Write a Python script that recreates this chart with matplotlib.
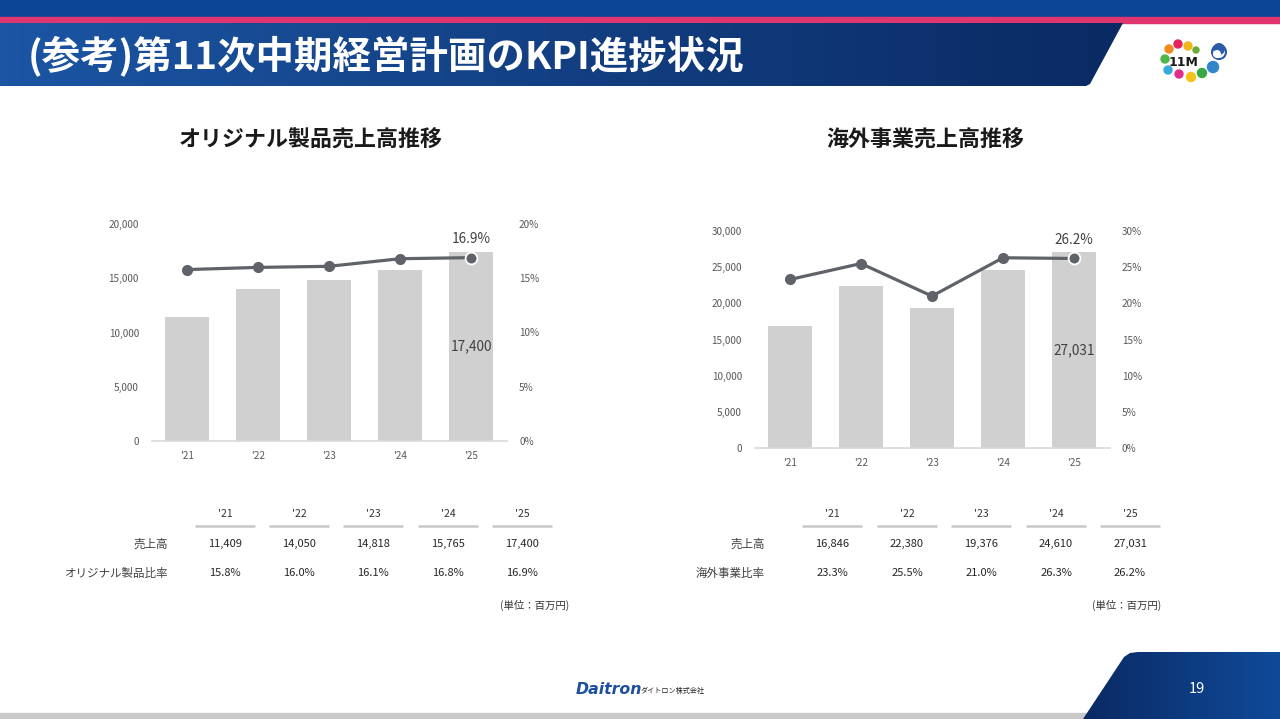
import numpy as np
import matplotlib
matplotlib.use("Agg")
import matplotlib.pyplot as plt
from matplotlib.patches import Polygon, Circle, Rectangle
from matplotlib.colors import LinearSegmentedColormap

plt.rcParams['font.family'] = ['Noto Sans CJK JP', 'DejaVu Sans']

# ---------------- data ----------------
years = ["'21", "'22", "'23", "'24", "'25"]
orig_sales = [11409, 14050, 14818, 15765, 17400]
orig_ratio = [15.8, 16.0, 16.1, 16.8, 16.9]
overseas_sales = [16846, 22380, 19376, 24610, 27031]
overseas_ratio = [23.3, 25.5, 21.0, 26.3, 26.2]

title_main = "(参考)第11次中期経営計画のKPI進捗状況"
title_left = "オリジナル製品売上高推移"
title_right = "海外事業売上高推移"
row_sales = "売上高"
row_orig = "オリジナル製品比率"
row_over = "海外事業比率"
unit_txt = "(単位：百万円)"

W, H = 1280, 719
fig = plt.figure(figsize=(12.8, 7.19), dpi=100)
fig.patch.set_facecolor('white')
bg = fig.add_axes([0, 0, 1, 1])
bg.axis('off')


def grad(verts, c1, c2, z=1):
    poly = Polygon(verts, closed=True, facecolor='none', edgecolor='none')
    bg.add_patch(poly)
    xs = [v[0] for v in verts]
    ys = [v[1] for v in verts]
    g = np.linspace(0, 1, 256).reshape(1, -1)
    cmap = LinearSegmentedColormap.from_list('g', [c1, c2])
    im = bg.imshow(g, extent=[min(xs), max(xs), max(ys), min(ys)], cmap=cmap,
                   aspect='auto', zorder=z, interpolation='bilinear')
    im.set_clip_path(poly)


# header
bg.add_patch(Rectangle((0, 0), W, 17, color='#0d4596', zorder=1))
bg.add_patch(Rectangle((0, 17), W, 6, color='#e0366f', zorder=1))
grad([(0, 23), (1123, 23), (1090, 84), (1086, 86), (0, 86)], '#1b55a3', '#0a2a63')
bg.text(28, 56, title_main, color='white', fontsize=27.7, fontweight='bold',
        va='center', ha='left', zorder=3)

# logo
dots = [(1178, 44, '#e5245e', 4), (1188, 46, '#f2b61c', 4), (1169, 49, '#f28b1f', 4),
        (1196, 50, '#6aaa3a', 3), (1165, 59, '#4db848', 4), (1168, 70, '#3aa7de', 4),
        (1179, 74, '#e02d8e', 4), (1191, 77, '#f5c21b', 4.5), (1202, 73, '#37a845', 4.5),
        (1213, 67, '#2f86c9', 5.5)]
for x, y, c, r in dots:
    bg.add_patch(Circle((x, y), r, color=c, zorder=3))
bg.text(1184, 62, "11M", fontsize=9, fontweight='bold', color='#1a1a1a',
        ha='center', va='center', zorder=4, family='DejaVu Sans')
bg.add_patch(Circle((1219, 52), 7, facecolor='white', edgecolor='#2a5aa8', lw=1.5, zorder=3))
bg.add_patch(Circle((1219, 49), 6, facecolor='#2a5aa8', edgecolor='none', zorder=3))
bg.add_patch(Circle((1217, 54), 4, facecolor='white', edgecolor='none', zorder=4))

# footer
grad([(1083, 719), (1124, 657), (1130, 653), (1138, 652), (1280, 652), (1280, 719)],
     '#0a2a63', '#0f4a9a')
bg.add_patch(Rectangle((0, 713), 1090, 6, color='#c9c9c9', zorder=0.5))
bg.text(1197, 689, "19", color='white', fontsize=10.5, ha='center', va='center', zorder=3)
bg.text(576, 690, "Daitron", color='#1d4f9f', fontsize=11.3, fontweight='bold',
        fontstyle='italic', ha='left', va='center', family='DejaVu Sans', zorder=3)
bg.text(641, 691, "ダイトロン株式会社", color='#222222', fontsize=5.1,
        ha='left', va='center', zorder=3)

# chart titles
bg.text(311, 140, title_left, fontsize=15.8, fontweight='bold', color='#1a1a1a',
        ha='center', va='center')
bg.text(925, 140, title_right, fontsize=15.8, fontweight='bold', color='#1a1a1a',
        ha='center', va='center')


def px_axes(l, t, r, b):
    return fig.add_axes([l / W, 1 - b / H, (r - l) / W, (b - t) / H])


def chart(l, t, r, b, sales, ratio, ymax, ystep, pmax, pstep):
    ax = px_axes(l, t, r, b)
    ax.set_facecolor('none')
    x = np.arange(len(years))
    ax.bar(x, sales, width=0.62, color='#d0d0d0', zorder=2)
    ax.set_xlim(-0.5, len(years) - 0.5)
    ax.set_ylim(0, ymax)
    yt = np.arange(0, ymax + 1, ystep)
    ax.set_yticks(yt)
    ax.set_yticklabels([f'{int(v):,}' for v in yt])
    ax.set_xticks(x)
    ax.set_xticklabels(years)
    ax.tick_params(axis='y', length=0, labelsize=7.2, labelcolor='#595959', pad=9)
    ax.tick_params(axis='x', length=0, labelsize=7.2, labelcolor='#595959', pad=7)
    for s in ['top', 'right', 'left']:
        ax.spines[s].set_visible(False)
    ax.spines['bottom'].set_color('#d9d9d9')
    ax.spines['bottom'].set_linewidth(1.2)
    ax.text(x[-1], sales[-1] / 2, f'{sales[-1]:,}', ha='center', va='center',
            fontsize=9.8, color='#404040', zorder=5)

    ax2 = ax.twinx()
    ax2.set_ylim(0, pmax)
    pt = np.arange(0, pmax + 0.1, pstep)
    ax2.set_yticks(pt)
    ax2.set_yticklabels([f'{int(v)}%' for v in pt])
    ax2.tick_params(axis='y', length=0, labelsize=7.2, labelcolor='#595959', pad=9)
    for s in ['top', 'right', 'left', 'bottom']:
        ax2.spines[s].set_visible(False)
    ax2.plot(x, ratio, color='#5f6369', lw=2.3, marker='o', ms=7, zorder=3)
    ax2.plot(x[-1:], ratio[-1:], 'o', ms=8.5, mfc='#5f6369', mec='white', mew=1.3, zorder=4)
    ax2.annotate(f'{ratio[-1]:.1f}%', (x[-1], ratio[-1]), xytext=(0, 13.5),
                 textcoords='offset points', ha='center', va='center',
                 fontsize=9.8, color='#404040')


chart(151.5, 224, 506.5, 441, orig_sales, orig_ratio, 20000, 5000, 20, 5)
chart(754.5, 231, 1109.5, 448, overseas_sales, overseas_ratio, 30000, 5000, 30, 5)


def table(cols, label_x, unit_x, sales, ratio, ratio_label):
    for cx, yl, s, r in zip(cols, years, sales, ratio):
        bg.text(cx, 514, yl, fontsize=7.5, color='#333333', ha='center', va='center')
        bg.plot([cx - 30, cx + 30], [526, 526], color='#c8c8c8', lw=1.8,
                solid_capstyle='butt')
        bg.text(cx, 544, f'{s:,}', fontsize=8, color='#262626', ha='center', va='center')
        bg.text(cx, 573, f'{r:.1f}%', fontsize=8, color='#262626', ha='center', va='center')
    bg.text(label_x, 544, row_sales, fontsize=8.3, color='#404040', ha='right', va='center')
    bg.text(label_x, 573, ratio_label, fontsize=8.3, color='#404040', ha='right', va='center')
    bg.text(unit_x, 605, unit_txt, fontsize=7.5, color='#333333', ha='right', va='center')


table([225, 299, 373, 448, 522], 168, 569, orig_sales, orig_ratio, row_orig)
table([832, 907, 981, 1056, 1130], 765, 1161, overseas_sales, overseas_ratio, row_over)

bg.set_xlim(0, W)
bg.set_ylim(H, 0)

fig.savefig('out.png', dpi=100, facecolor='white')
